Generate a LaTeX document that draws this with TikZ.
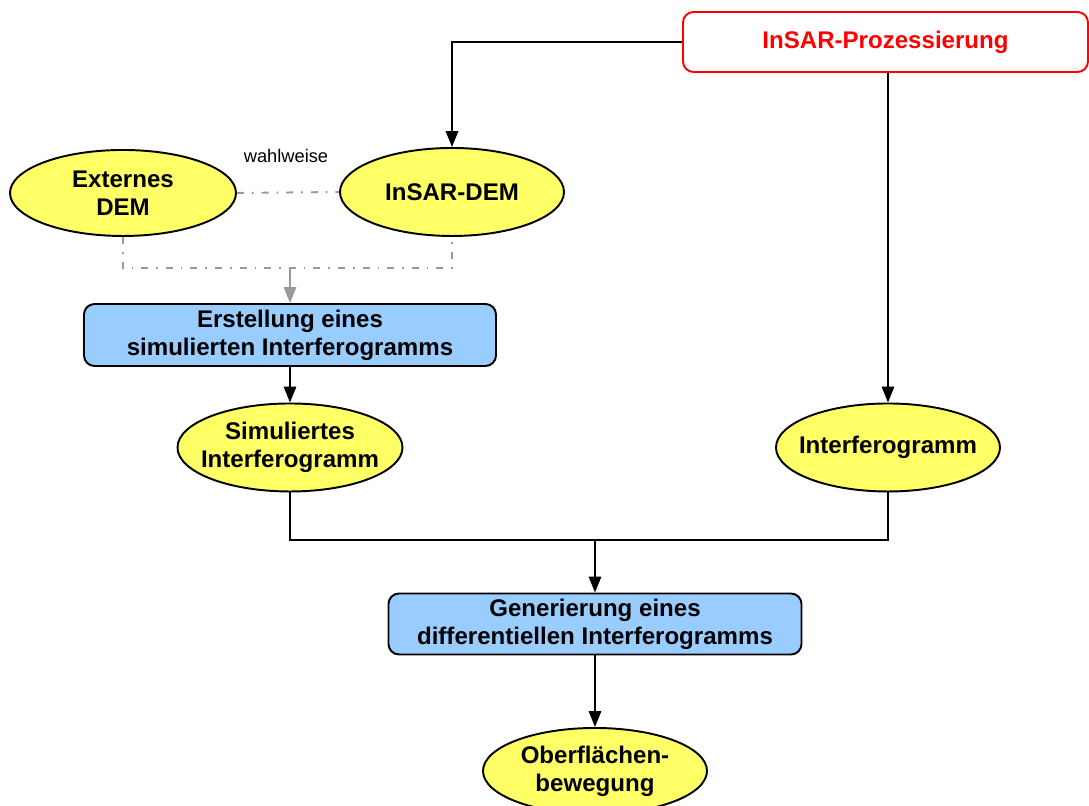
\documentclass[tikz,border=0pt]{standalone}
\usepackage{fontspec}
\setmainfont{Liberation Sans}
\usetikzlibrary{arrows.meta, positioning, shapes.geometric}
\definecolor{ellyellow}{HTML}{FFFF66}
\definecolor{boxblue}{HTML}{99CCFF}
\definecolor{procred}{HTML}{FF0000}
\definecolor{optgray}{HTML}{999999}

\begin{document}
\begin{tikzpicture}[
  >={Triangle[length=9pt, width=7pt]},
  result/.style={ellipse, draw=black, fill=ellyellow, line width=1.1pt, inner xsep=-9pt, inner ysep=0pt,
    align=center, font=\fontsize{13.7}{16}\selectfont\bfseries},
  stepbox/.style={rounded corners=6pt, draw=black, fill=boxblue, line width=1.1pt, inner sep=0pt,
    align=center, font=\fontsize{13.7}{16}\selectfont\bfseries},
  flow/.style={black, line width=1.1pt},
  optional/.style={optgray, line width=1.1pt, dash pattern=on 4pt off 4.5pt on 1pt off 4.5pt},
]

% Bounding box
\useasboundingbox (0,0) rectangle (21.78,16.12);

% Processing start
\node[rounded corners=6pt, draw=procred, fill=white, line width=1.1pt, text=procred,
  minimum width=8.1cm, minimum height=1.2cm, font=\fontsize{13.7}{16}\selectfont\bfseries]
  (proz) at (17.71,15.28) {InSAR-Prozessierung};

% DEM sources
\node[result, minimum width=4.52cm, minimum height=1.72cm] (ext) at (2.46,12.26) {Externes\\DEM};
\node[result, minimum width=4.48cm, minimum height=1.76cm] (dem) at (9.04,12.28) {InSAR-DEM};
\node[font=\fontsize{10.4}{12}\selectfont] (wahl) at (5.72,13.0) {wahlweise};

% Simulation
\node[stepbox, minimum width=8.24cm, minimum height=1.24cm] (erst) at (5.80,9.42)
  {Erstellung eines\\simulierten Interferogramms};
\node[result, minimum width=4.5cm, minimum height=1.76cm] (sim) at (5.80,7.17)
  {Simuliertes\\Interferogramm};

% Interferogram
\node[result, minimum width=4.48cm, minimum height=1.76cm] (ifg) at (17.76,7.17) {Interferogramm};

% Differential step
\node[stepbox, minimum width=8.26cm, minimum height=1.22cm] (gen) at (11.90,3.64)
  {Generierung eines\\differentiellen Interferogramms};
\node[result, minimum width=4.48cm, minimum height=1.72cm] (ofl) at (11.90,0.70)
  {Oberflächen-\\bewegung};

\coordinate (merge) at (5.80,10.76);
\coordinate (join) at (11.90,5.32);

% Connectors
\draw[flow, ->] (proz.west) -| (dem.north);
\draw[flow, ->] (ifg.north |- proz.south) -- (ifg.north);
\draw[optional] (ext.east) -- (dem.west);
\draw[optional] (ext.south) -- (ext.south |- merge) -- (dem.south |- merge) -- (dem.south);
\draw[optgray, line width=1.1pt, ->] (merge) -- (erst.north);
\draw[flow, ->] (erst.south) -- (sim.north);
\draw[flow] (sim.south) -- (sim.south |- join) -- (ifg.south |- join) -- (ifg.south);
\draw[flow, ->] (join) -- (gen.north);
\draw[flow, ->] (gen.south) -- (ofl.north);

\end{tikzpicture}
\end{document}
